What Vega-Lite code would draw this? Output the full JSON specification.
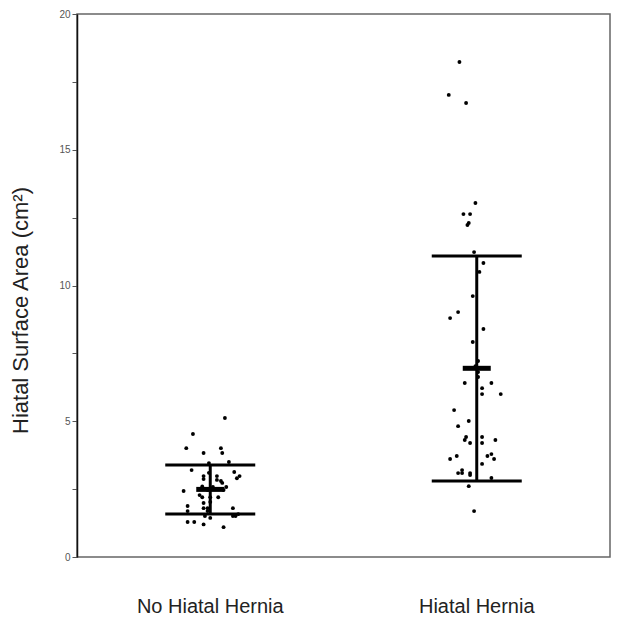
{
  "$schema": "https://vega.github.io/schema/vega-lite/v6.json",
  "autosize": {"type": "none"},
  "padding": {"left": 77, "top": 14, "right": 20, "bottom": 73},
  "width": 533,
  "height": 543,
  "background": "white",
  "config": {
    "view": {"stroke": "#666666", "strokeWidth": 1.5},
    "font": "Liberation Sans"
  },
  "datasets": {
    "points": [
      {"group": "No Hiatal Hernia", "jitter": 0.11, "value": 5.12},
      {"group": "No Hiatal Hernia", "jitter": -0.13, "value": 4.53},
      {"group": "No Hiatal Hernia", "jitter": -0.18, "value": 4.01},
      {"group": "No Hiatal Hernia", "jitter": 0.08, "value": 4.01},
      {"group": "No Hiatal Hernia", "jitter": -0.05, "value": 3.83},
      {"group": "No Hiatal Hernia", "jitter": 0.09, "value": 3.83},
      {"group": "No Hiatal Hernia", "jitter": 0.14, "value": 3.5},
      {"group": "No Hiatal Hernia", "jitter": -0.01, "value": 3.46},
      {"group": "No Hiatal Hernia", "jitter": -0.14, "value": 3.2},
      {"group": "No Hiatal Hernia", "jitter": -0.01, "value": 3.1},
      {"group": "No Hiatal Hernia", "jitter": 0.18, "value": 3.13},
      {"group": "No Hiatal Hernia", "jitter": 0.22, "value": 2.98},
      {"group": "No Hiatal Hernia", "jitter": 0.2, "value": 2.9},
      {"group": "No Hiatal Hernia", "jitter": -0.05, "value": 2.98},
      {"group": "No Hiatal Hernia", "jitter": -0.05, "value": 2.87},
      {"group": "No Hiatal Hernia", "jitter": 0.05, "value": 2.98},
      {"group": "No Hiatal Hernia", "jitter": 0.05, "value": 2.84},
      {"group": "No Hiatal Hernia", "jitter": 0.08, "value": 2.8},
      {"group": "No Hiatal Hernia", "jitter": 0.09, "value": 2.73},
      {"group": "No Hiatal Hernia", "jitter": 0.12, "value": 2.58},
      {"group": "No Hiatal Hernia", "jitter": -0.06, "value": 2.6},
      {"group": "No Hiatal Hernia", "jitter": -0.2, "value": 2.43},
      {"group": "No Hiatal Hernia", "jitter": -0.02, "value": 2.47},
      {"group": "No Hiatal Hernia", "jitter": 0.02, "value": 2.58},
      {"group": "No Hiatal Hernia", "jitter": 0.1, "value": 2.47},
      {"group": "No Hiatal Hernia", "jitter": -0.08, "value": 2.28},
      {"group": "No Hiatal Hernia", "jitter": -0.06, "value": 2.2},
      {"group": "No Hiatal Hernia", "jitter": 0.0, "value": 2.2},
      {"group": "No Hiatal Hernia", "jitter": 0.06, "value": 2.2},
      {"group": "No Hiatal Hernia", "jitter": -0.05, "value": 1.99},
      {"group": "No Hiatal Hernia", "jitter": 0.0, "value": 2.03},
      {"group": "No Hiatal Hernia", "jitter": -0.17, "value": 1.88},
      {"group": "No Hiatal Hernia", "jitter": -0.05, "value": 1.8},
      {"group": "No Hiatal Hernia", "jitter": -0.02, "value": 1.8},
      {"group": "No Hiatal Hernia", "jitter": 0.17, "value": 1.8},
      {"group": "No Hiatal Hernia", "jitter": -0.17, "value": 1.69},
      {"group": "No Hiatal Hernia", "jitter": -0.02, "value": 1.69},
      {"group": "No Hiatal Hernia", "jitter": 0.17, "value": 1.51},
      {"group": "No Hiatal Hernia", "jitter": 0.19, "value": 1.51},
      {"group": "No Hiatal Hernia", "jitter": 0.21, "value": 1.58},
      {"group": "No Hiatal Hernia", "jitter": -0.04, "value": 1.51},
      {"group": "No Hiatal Hernia", "jitter": 0.0, "value": 1.44},
      {"group": "No Hiatal Hernia", "jitter": -0.17, "value": 1.29},
      {"group": "No Hiatal Hernia", "jitter": -0.12, "value": 1.29},
      {"group": "No Hiatal Hernia", "jitter": -0.05, "value": 1.2},
      {"group": "No Hiatal Hernia", "jitter": 0.1, "value": 1.1},
      {"group": "Hiatal Hernia", "jitter": -0.13, "value": 18.23},
      {"group": "Hiatal Hernia", "jitter": -0.21, "value": 17.02},
      {"group": "Hiatal Hernia", "jitter": -0.08, "value": 16.72},
      {"group": "Hiatal Hernia", "jitter": -0.01, "value": 13.04},
      {"group": "Hiatal Hernia", "jitter": -0.1, "value": 12.63},
      {"group": "Hiatal Hernia", "jitter": -0.05, "value": 12.63},
      {"group": "Hiatal Hernia", "jitter": -0.06, "value": 12.3},
      {"group": "Hiatal Hernia", "jitter": -0.07, "value": 12.23},
      {"group": "Hiatal Hernia", "jitter": -0.02, "value": 11.23},
      {"group": "Hiatal Hernia", "jitter": 0.05, "value": 10.83},
      {"group": "Hiatal Hernia", "jitter": 0.02, "value": 10.5},
      {"group": "Hiatal Hernia", "jitter": -0.03, "value": 9.61},
      {"group": "Hiatal Hernia", "jitter": -0.14, "value": 9.02},
      {"group": "Hiatal Hernia", "jitter": -0.2, "value": 8.8},
      {"group": "Hiatal Hernia", "jitter": 0.05, "value": 8.4},
      {"group": "Hiatal Hernia", "jitter": -0.03, "value": 7.92},
      {"group": "Hiatal Hernia", "jitter": 0.01, "value": 7.22},
      {"group": "Hiatal Hernia", "jitter": -0.01, "value": 7.03},
      {"group": "Hiatal Hernia", "jitter": 0.01, "value": 6.81},
      {"group": "Hiatal Hernia", "jitter": 0.01, "value": 6.63},
      {"group": "Hiatal Hernia", "jitter": -0.09, "value": 6.41},
      {"group": "Hiatal Hernia", "jitter": 0.11, "value": 6.41},
      {"group": "Hiatal Hernia", "jitter": 0.04, "value": 6.22},
      {"group": "Hiatal Hernia", "jitter": 0.04, "value": 6.0},
      {"group": "Hiatal Hernia", "jitter": 0.18, "value": 6.0},
      {"group": "Hiatal Hernia", "jitter": -0.17, "value": 5.41},
      {"group": "Hiatal Hernia", "jitter": -0.06, "value": 5.01},
      {"group": "Hiatal Hernia", "jitter": -0.14, "value": 4.82},
      {"group": "Hiatal Hernia", "jitter": -0.08, "value": 4.42},
      {"group": "Hiatal Hernia", "jitter": -0.09, "value": 4.31},
      {"group": "Hiatal Hernia", "jitter": -0.05, "value": 4.2},
      {"group": "Hiatal Hernia", "jitter": 0.04, "value": 4.42},
      {"group": "Hiatal Hernia", "jitter": 0.04, "value": 4.2},
      {"group": "Hiatal Hernia", "jitter": 0.14, "value": 4.31},
      {"group": "Hiatal Hernia", "jitter": -0.15, "value": 3.72},
      {"group": "Hiatal Hernia", "jitter": -0.2, "value": 3.61},
      {"group": "Hiatal Hernia", "jitter": 0.08, "value": 3.72},
      {"group": "Hiatal Hernia", "jitter": 0.11, "value": 3.79},
      {"group": "Hiatal Hernia", "jitter": 0.13, "value": 3.61},
      {"group": "Hiatal Hernia", "jitter": 0.04, "value": 3.43},
      {"group": "Hiatal Hernia", "jitter": -0.11, "value": 3.2},
      {"group": "Hiatal Hernia", "jitter": -0.11, "value": 3.09},
      {"group": "Hiatal Hernia", "jitter": -0.14, "value": 3.09},
      {"group": "Hiatal Hernia", "jitter": -0.05, "value": 3.09},
      {"group": "Hiatal Hernia", "jitter": -0.05, "value": 3.02},
      {"group": "Hiatal Hernia", "jitter": 0.11, "value": 2.91},
      {"group": "Hiatal Hernia", "jitter": -0.06, "value": 2.61},
      {"group": "Hiatal Hernia", "jitter": -0.02, "value": 1.69}
    ],
    "summary": [
      {"group": "No Hiatal Hernia", "mean": 2.49, "lower": 1.58, "upper": 3.39},
      {"group": "Hiatal Hernia", "mean": 6.95, "lower": 2.8, "upper": 11.09}
    ]
  },
  "encoding": {
    "x": {
      "field": "group",
      "type": "nominal",
      "sort": ["No Hiatal Hernia", "Hiatal Hernia"],
      "scale": {"domain": ["No Hiatal Hernia", "Hiatal Hernia"], "paddingInner": 0, "paddingOuter": 0},
      "axis": {
        "title": null,
        "labelAngle": 0,
        "labelFontSize": 20,
        "labelColor": "#222222",
        "labelPadding": 39,
        "labelFont": "Liberation Sans",
        "domain": false,
        "ticks": false
      }
    }
  },
  "layer": [
    {
      "data": {"name": "points"},
      "mark": {"type": "circle", "color": "black", "size": 15, "opacity": 1},
      "encoding": {
        "xOffset": {"field": "jitter", "type": "quantitative", "scale": {"domain": [-1, 1]}},
        "y": {
          "field": "value",
          "type": "quantitative",
          "scale": {"domain": [0, 20], "nice": false},
          "axis": {
            "title": "Hiatal Surface Area (cm²)",
            "titleFontSize": 22,
            "titleFont": "Liberation Sans",
            "titleFontWeight": "normal",
            "titleColor": "#222222",
            "titlePadding": 26,
            "titleY": 296,
            "values": [0, 2.5, 5, 7.5, 10, 12.5, 15, 17.5, 20],
            "labelExpr": "datum.value % 5 === 0 ? datum.label : ''",
            "labelFontSize": 10,
            "labelColor": "#555555",
            "labelPadding": 2,
            "tickColor": "#555555",
            "tickSize": 5,
            "domainColor": "#111111",
            "domainWidth": 1.5,
            "grid": false
          }
        }
      }
    },
    {
      "data": {"name": "summary"},
      "mark": {"type": "rule", "color": "black", "strokeWidth": 3},
      "encoding": {"y": {"field": "lower", "type": "quantitative"}, "y2": {"field": "upper"}}
    },
    {
      "data": {"name": "summary"},
      "mark": {"type": "tick", "color": "black", "size": 90, "thickness": 3, "orient": "horizontal", "opacity": 1},
      "encoding": {"y": {"field": "upper", "type": "quantitative"}}
    },
    {
      "data": {"name": "summary"},
      "mark": {"type": "tick", "color": "black", "size": 90, "thickness": 3, "orient": "horizontal", "opacity": 1},
      "encoding": {"y": {"field": "lower", "type": "quantitative"}}
    },
    {
      "data": {"name": "summary"},
      "mark": {"type": "tick", "color": "black", "size": 28, "thickness": 5, "orient": "horizontal", "opacity": 1},
      "encoding": {"y": {"field": "mean", "type": "quantitative"}}
    }
  ]
}
